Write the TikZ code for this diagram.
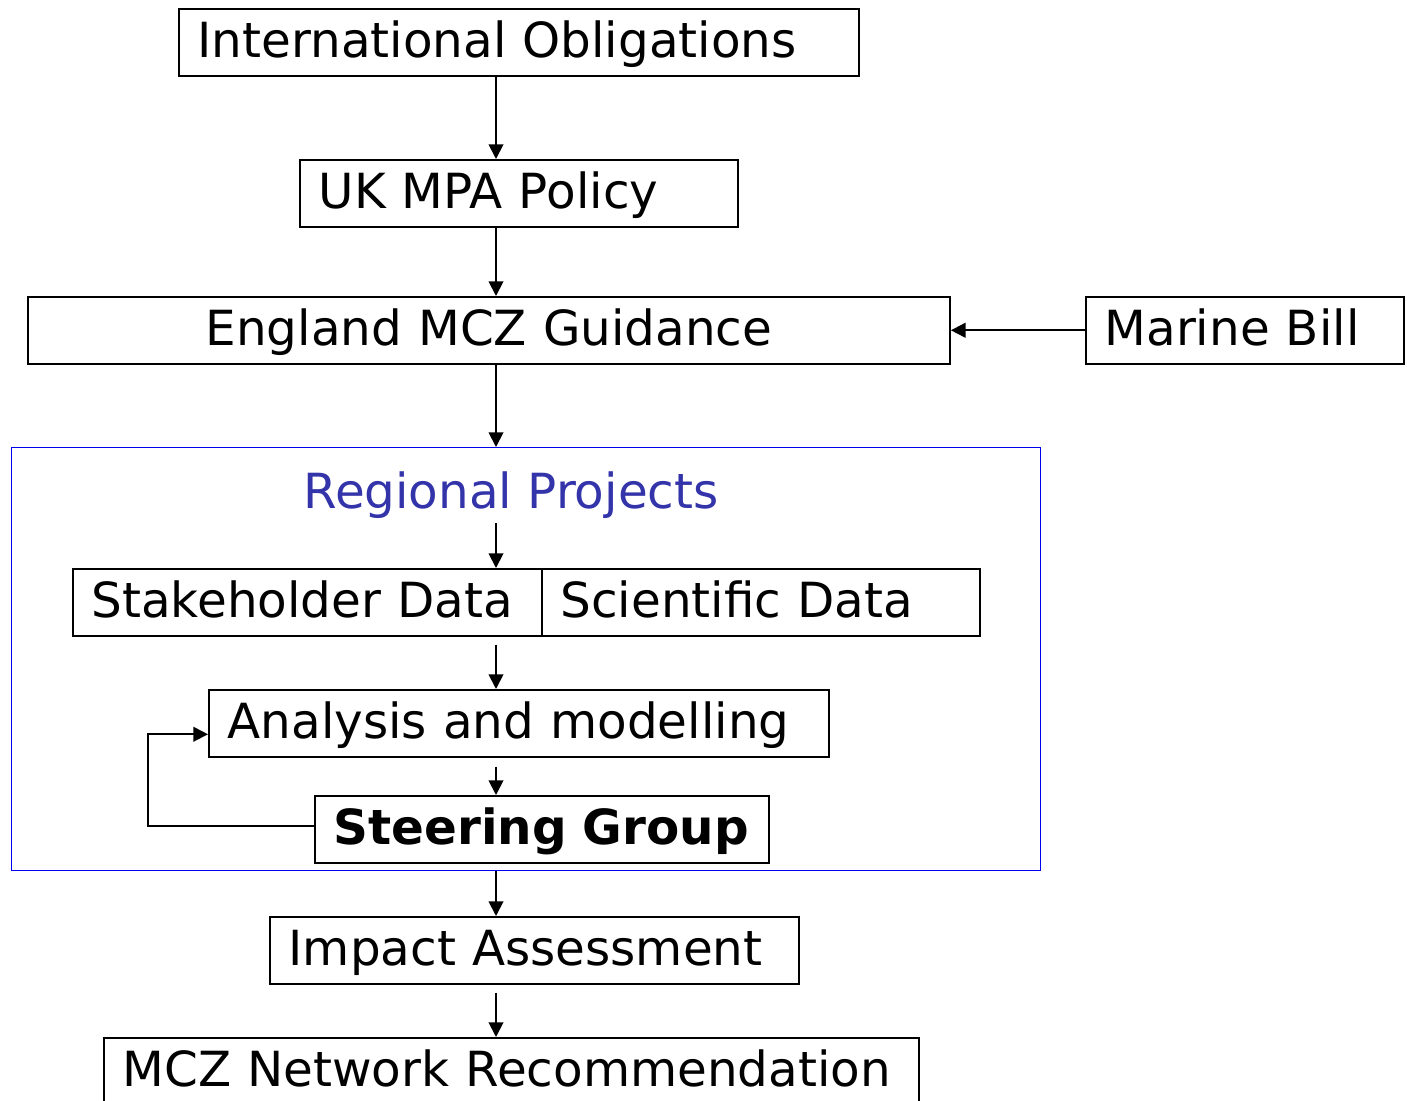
\documentclass[tikz,border=0pt]{standalone}
\usepackage{fontspec}
\setmainfont{DejaVu Sans}
\usepackage{tikz}
\usetikzlibrary{arrows.meta}
\usetikzlibrary{calc}
\definecolor{regblue}{RGB}{51,51,170}
\definecolor{boxblue}{RGB}{0,0,240}

\begin{document}
\begin{tikzpicture}[x=0.75pt,y=-0.75pt,
	box/.style={draw,line width=1.4pt,anchor=north west,minimum height=50pt,inner xsep=14pt,inner ysep=3pt,text height=28pt,text depth=4.8pt,align=left,font=\fontsize{36.3}{40}\selectfont},
	arr/.style={line width=1.4pt,-{Triangle[length=11pt,width=11pt]}}]
	\useasboundingbox (0,0) rectangle (1407,1100);
	\coordinate (spine) at (496,0);
	\node [box,text width=482pt] (intl) at (178,8) {International Obligations};
	\node [box,text width=300.5pt] (ukmpa) at (299,159) {UK MPA Policy};
	\node [box,text width=663.5pt,align=center] (england) at (27,296) {England MCZ Guidance};
	\node [box,text width=210.5pt] (marine) at (1085,296) {Marine Bill};
	\node [draw=boxblue,line width=1.1pt,anchor=north west,minimum width=771.75pt,minimum height=317.25pt] (region) at (11,447) {};
	\node [font=\fontsize{36.3}{40}\selectfont,text=regblue] (regtitle) at (511,495) {Regional Projects};
	\node [box,text width=323.75pt] (stake) at (72,568) {Stakeholder Data};
	\node [box,text width=300.5pt] (sci) at (541,568) {Scientific Data};
	\node [box,text width=437pt] (analysis) at (208,689) {Analysis and modelling};
	\node [box,text width=312.5pt] (steering) at (314,795) {\bfseries Steering Group};
	\node [box,text width=368.75pt] (impact) at (269,916) {Impact Assessment};
	\node [box,text width=583.25pt] (network) at (103,1037) {MCZ Network Recommendation};
	\draw [arr] (intl.south -| spine) -- (ukmpa.north -| spine);
	\draw [arr] (ukmpa.south -| spine) -- (england.north -| spine);
	\draw [arr] (england.south -| spine) -- (region.north -| spine);
	\draw [arr] (marine.west) -- (england.east);
	\draw [arr] (regtitle.south -| spine) -- (stake.north -| spine);
	\draw [arr] ($(stake.south -| spine)+(0,8)$) -- (analysis.north -| spine);
	\draw [arr] ($(analysis.south -| spine)+(0,9)$) -- (steering.north -| spine);
	\draw [arr] ($(steering.west)+(0,-3)$) -- ++(-166,0) |- ($(analysis.west)+(0,11)$);
	\draw [arr] (region.south -| spine) -- (impact.north -| spine);
	\draw [arr] ($(impact.south -| spine)+(0,8)$) -- (network.north -| spine);
\end{tikzpicture}
\end{document}
